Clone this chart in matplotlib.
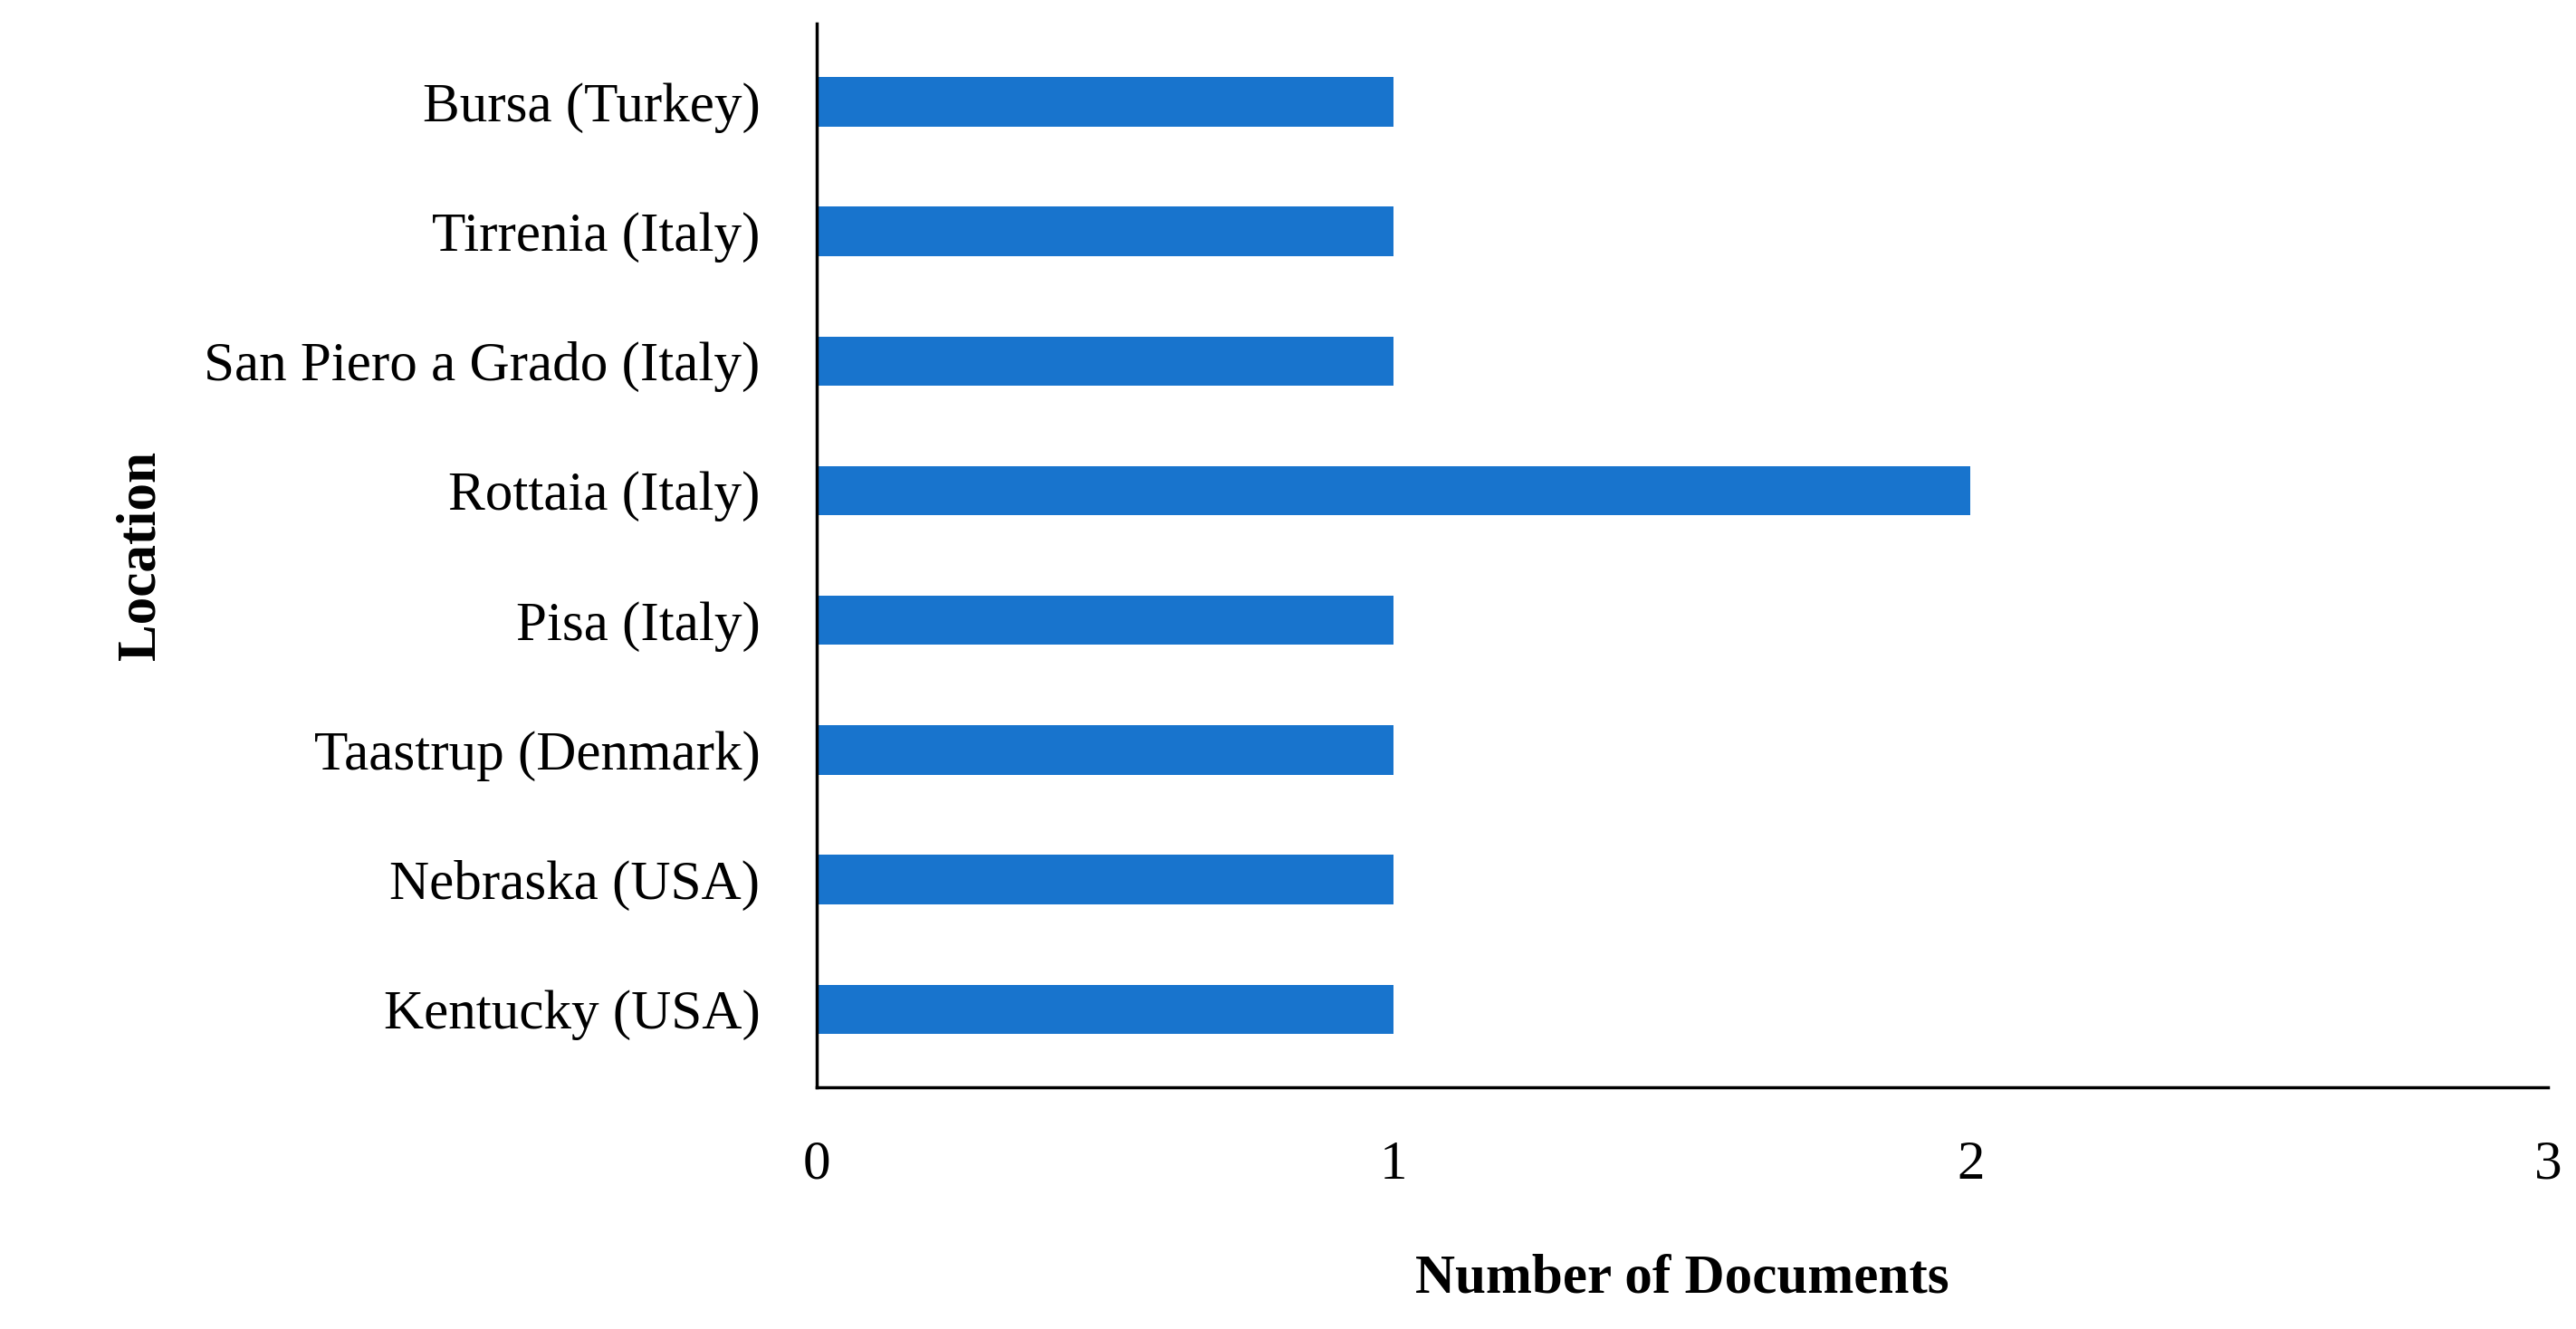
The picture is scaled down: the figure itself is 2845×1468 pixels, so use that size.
import matplotlib.pyplot as plt

locations = ["Kentucky (USA)", "Nebraska (USA)", "Taastrup (Denmark)", "Pisa (Italy)",
             "Rottaia (Italy)", "San Piero a Grado (Italy)", "Tirrenia (Italy)", "Bursa (Turkey)"]
documents = [1, 1, 1, 1, 2, 1, 1, 1]

plt.rcParams['font.family'] = ['Liberation Serif', 'DejaVu Serif']

fig = plt.figure(figsize=(28.45, 14.68), dpi=100)
ax = fig.add_axes([0.317, 0.182, 0.672, 0.8])
ax.barh(locations, documents, height=0.38, color="#1874CD")
ax.set_xlim(0, 3)
ax.set_ylim(-0.6, 7.6)
ax.set_xticks([0, 1, 2, 3])
for s in ["top", "right"]:
    ax.spines[s].set_visible(False)
for s in ["left", "bottom"]:
    ax.spines[s].set_linewidth(2.5)
ax.tick_params(axis="x", length=0, pad=42, labelsize=44)
ax.tick_params(axis="y", length=0, pad=45, labelsize=44)
ax.set_xlabel("Number of Documents", fontsize=44, fontweight="bold", labelpad=50)
ax.set_ylabel("Location", fontsize=44, fontweight="bold", labelpad=30)

fig.savefig("out.png")
